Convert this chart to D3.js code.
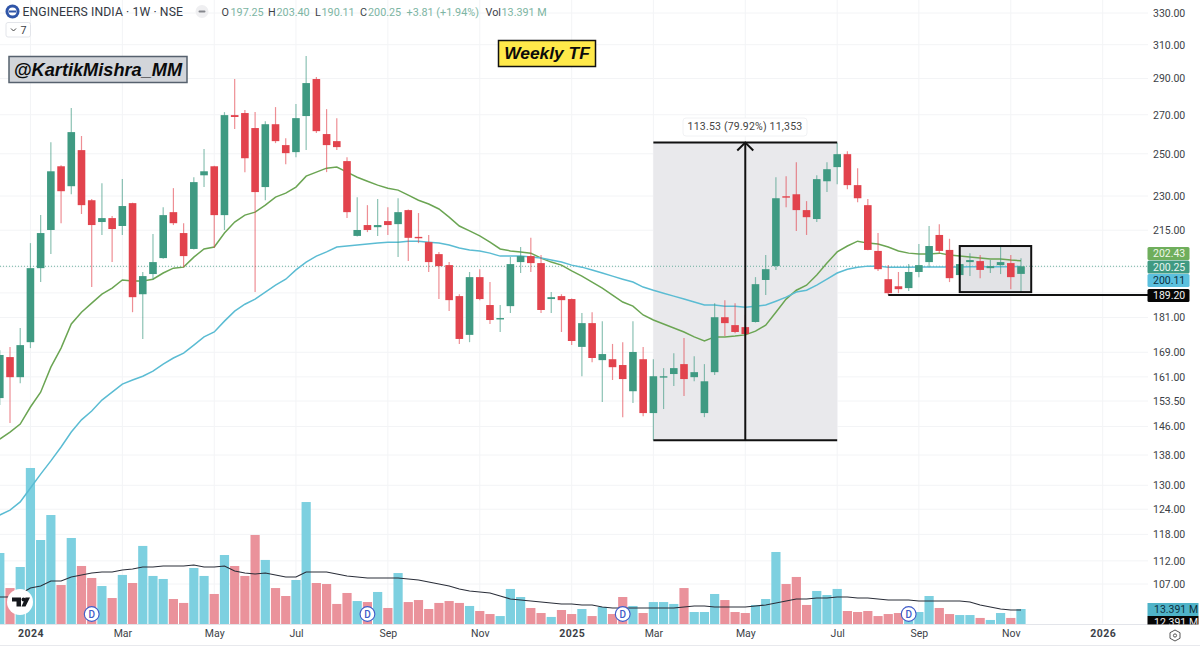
<!DOCTYPE html>
<html>
<head>
<meta charset="utf-8">
<title>ENGINEERS INDIA 1W</title>
<script src="https://cdnjs.cloudflare.com/ajax/libs/d3/7.8.5/d3.min.js"></script>
<style>
  html, body { margin: 0; padding: 0; background: #fff; overflow: hidden; }
  svg { display: block; font-family: Roboto, "Liberation Sans", sans-serif; }
</style>
</head>
<body>
<svg id="chart" width="1200" height="647"></svg>
<script>
// weekly candles, oldest first
const opens = [154.4,167.4,160.9,172.4,199.5,215.1,243.9,234.5,251.8,228.1,218.5,220.2,216.8,226.8,189.5,197.2,203.5,222.8,213.8,207.2,239.6,243.9,221.5,269.8,270.9,263.0,234.1,265.0,254.3,250.8,269.3,289.7,259.9,256.3,246.4,212.6,217.2,216.3,218.9,217.6,223.7,212.2,210.0,205.1,200.7,188.8,174.9,196.0,185.5,180.4,185.1,201.9,204.3,201.5,187.7,188.8,187.7,170.8,179.0,166.4,166.7,164.8,156.5,166.7,149.9,160.9,161.9,165.1,160.9,149.9,162.5,181.1,178.3,177.6,179.4,194.9,200.3,229.9,230.8,223.7,219.8,236.8,243.5,249.8,235.0,225.9,206.4,195.2,192.5,191.8,198.0,201.9,213.0,206.8,196.8,201.9,202.3,199.5,200.7,201.5,197.25];
const highs = [169.7,170.8,177.3,209.6,221.5,255.8,244.4,273.6,258.9,228.6,235.9,221.1,237.8,227.0,198.0,213.4,225.0,233.6,218.0,238.7,252.3,244.2,271.4,289.7,272.5,271.4,266.6,274.1,257.8,275.8,303.1,290.8,273.0,268.2,248.3,229.5,225.9,228.6,225.0,229.0,224.0,222.4,213.0,206.0,201.9,189.5,198.0,199.1,194.1,185.5,203.9,208.0,211.8,204.7,190.3,189.5,187.9,182.6,182.9,179.7,171.8,172.4,179.7,170.8,166.7,163.8,168.7,173.8,167.7,165.1,186.2,187.3,186.2,181.9,196.0,204.7,238.7,239.2,245.9,227.7,239.6,245.9,255.5,251.3,243.0,228.6,213.8,200.7,198.0,201.1,209.2,216.8,217.6,211.4,205.1,205.5,204.7,202.7,208.0,204.7,203.40];
const lows = [152.3,147.0,159.0,170.4,194.1,205.1,218.0,230.8,222.0,192.2,213.0,201.9,213.0,182.9,173.5,195.2,203.2,217.2,199.9,207.0,234.1,207.6,215.1,262.5,241.1,190.3,228.1,255.3,244.9,248.3,251.8,260.4,241.1,251.8,220.2,212.4,214.2,212.6,213.0,203.9,202.3,209.6,198.0,187.7,183.3,171.8,172.4,187.3,178.7,175.9,182.6,197.6,198.0,182.6,182.6,175.9,171.4,161.2,165.7,153.2,160.0,148.7,152.9,149.0,142.1,151.1,158.1,155.0,159.6,148.7,161.6,174.5,175.5,166.4,179.2,189.2,198.8,225.0,214.7,213.0,218.5,231.8,235.4,233.1,227.2,206.7,198.4,189.2,189.9,190.7,196.0,199.9,205.5,194.1,190.3,196.4,195.6,197.6,197.2,191.4,190.11];
const closes = [168.1,160.9,171.4,199.5,213.8,241.5,232.2,260.9,225.9,217.2,220.2,215.5,225.5,188.4,196.4,201.9,221.5,218.0,204.3,236.4,241.5,221.5,269.8,268.8,247.8,231.8,265.0,256.3,250.3,268.2,287.4,261.4,254.3,253.3,222.8,215.1,215.1,217.2,217.2,222.8,211.8,211.8,201.9,200.3,187.3,173.5,196.0,187.7,180.1,180.8,201.1,204.3,201.5,183.7,188.4,187.3,172.8,179.0,167.1,168.4,164.1,160.3,169.1,149.9,161.2,161.2,163.8,160.3,162.5,159.6,181.1,179.0,175.9,175.2,193.3,199.1,229.0,229.5,223.7,220.6,237.8,242.5,249.8,235.0,229.0,206.8,199.1,189.9,191.4,198.0,200.7,208.4,206.4,195.6,201.1,202.7,198.8,200.3,201.9,196.0,200.25];

// moving averages on price
const maFast = [142.4,144.4,146.7,151.7,156.2,164.1,170.4,178.7,182.9,186.2,189.5,191.8,194.9,194.5,194.5,195.2,197.6,199.5,199.9,203.9,207.2,208.0,213.8,218.5,221.5,222.8,225.9,229.5,231.3,234.1,239.2,241.1,243.0,243.5,241.1,238.7,236.8,235.0,233.6,232.7,230.4,228.1,226.4,224.2,220.6,216.8,214.7,212.6,210.0,207.2,206.4,206.0,205.5,203.5,201.9,200.7,198.4,196.4,194.1,191.8,189.2,186.6,185.1,181.9,180.1,178.7,177.3,175.9,174.2,172.8,174.2,174.2,174.5,174.9,176.2,178.3,182.9,187.7,191.0,192.9,196.8,201.5,206.0,208.4,210.4,209.6,209.2,208.0,206.4,205.5,205.1,205.1,205.5,204.7,204.3,203.9,203.5,203.1,203.1,202.7,202.43];
const maSlow = [122.6,123.8,125.8,129.3,132.9,136.4,140.2,144.4,147.9,150.5,153.8,156.2,158.7,160.0,161.2,162.8,165.1,167.1,168.7,171.4,174.2,175.9,179.7,183.3,185.8,187.7,190.3,192.9,195.2,198.8,201.9,204.3,206.0,208.0,208.4,208.8,209.2,209.6,210.0,210.0,210.4,210.4,210.0,209.6,208.8,207.6,206.8,206.4,205.5,204.3,204.3,204.3,203.9,203.5,202.7,201.9,200.7,199.9,198.8,197.6,196.4,195.2,194.1,192.2,191.0,189.9,188.8,187.7,186.6,185.5,185.5,185.1,185.1,184.7,185.1,185.5,186.9,188.4,190.3,191.0,192.9,195.2,197.6,199.1,199.9,200.3,200.3,199.9,199.9,199.9,200.0,200.0,200.0,200.0,200.0,200.1,200.1,200.1,200.1,200.1,200.11];

// volume in millions
const volumes = [63.4,32.1,50.9,139.3,75.0,97.3,34.8,76.8,51.8,41.1,33.9,23.2,43.8,36.6,69.7,42.9,40.2,22.3,18.8,50.0,42.9,26.8,61.6,51.8,42.9,79.5,57.2,32.1,25.0,39.3,108.9,36.6,35.7,17.9,27.7,20.5,19.6,28.6,14.3,45.5,19.6,21.4,13.4,18.8,20.5,18.8,16.1,11.6,8.9,7.1,31.3,24.1,14.3,9.8,6.3,12.5,8.9,13.4,7.1,15.2,8.9,24.1,16.1,9.8,19.6,19.6,17.9,32.1,10.7,10.7,26.8,21.4,10.7,9.8,17.0,22.3,64.3,35.7,42.0,17.0,29.5,25.9,31.3,11.6,10.7,11.6,7.1,8.9,9.8,10.7,10.7,25.0,14.3,8.9,8.0,8.0,5.4,3.6,9.8,5.4,13.391];
const volumeMa = [24.1,24.1,26.8,32.1,33.9,38.4,38.4,42.0,43.8,45.5,46.4,46.4,48.2,49.1,50.9,50.9,51.8,51.8,51.8,52.7,50.9,50.9,51.8,47.3,45.5,44.7,45.5,43.8,42.0,42.0,46.4,46.4,46.4,44.7,42.9,42.0,41.1,41.1,41.1,41.1,40.2,39.3,37.5,35.7,33.9,31.3,29.5,28.6,27.7,25.0,22.3,21.4,20.5,19.6,18.8,17.9,17.9,17.0,17.0,15.2,14.3,14.3,14.3,14.3,14.3,14.3,14.3,15.2,16.1,16.1,15.2,15.2,15.2,15.2,16.1,17.0,18.8,20.5,22.3,22.3,23.2,23.2,24.1,24.1,23.2,23.2,22.3,21.4,21.4,21.4,20.5,20.5,20.5,20.5,20.5,19.6,17.0,15.2,13.4,12.5,12.5];

// axes
const priceTicks = [330,310,290,270,250,230,215,200,190,181,169,161,153.5,146,138,130,124,118,112,107];
const timeTicks = [3,12,21,29,38,47,56,64,73,82,90,99,108];
const timeLabels = ['2024','Mar','May','Jul','Sep','Nov','2025','Mar','May','Jul','Sep','Nov','2026'];
const yearLabels = ['2024','2025','2026'];

// drawings and markers
const dividendBars = [9,36,61,89];
const measureBars = [64,82];
const measurePrices = [142.05,255.58];
const rangeBars = [94,101];
const rangePrices = [190.3,208.4];
const supportBar = 87;
const supportPrice = 189.20;
const lastPrice = 200.25;

const GREEN = '#3f9a82', RED = '#e2434d';
const VOL_BLUE = '#7dd0e0', VOL_RED = '#ea929b';
const GRID = '#f3f4f6', TEXT = '#3c3f47';

const svg = d3.select('#chart');
svg.append('rect').attr('width', 1200).attr('height', 647).attr('fill', '#fff');

const x = d3.scaleLinear().domain([0, 100]).range([-0.2, 1021]);
const y = d3.scaleLog().domain([330, 107]).range([13, 584]);
const yVol = d3.scaleLinear().domain([0, 100]).range([624, 512]);

svg.append('defs').append('clipPath').attr('id', 'volClip')
  .append('rect').attr('x', 1140).attr('y', 595).attr('width', 60).attr('height', 29.5);

// grid
svg.append('g').selectAll('line').data(priceTicks).join('line')
  .attr('x1', 0).attr('x2', 1148)
  .attr('y1', d => y(d)).attr('y2', d => y(d))
  .attr('stroke', GRID);
svg.append('g').selectAll('line').data(timeTicks).join('line')
  .attr('x1', d => x(d)).attr('x2', d => x(d))
  .attr('y1', 0).attr('y2', 624)
  .attr('stroke', GRID);

// volume pane
svg.append('g').selectAll('rect').data(volumes).join('rect')
  .attr('x', (d, i) => x(i) - 4.6)
  .attr('width', 9.2)
  .attr('y', d => yVol(d))
  .attr('height', d => yVol(0) - yVol(d))
  .attr('fill', (d, i) => closes[i] >= opens[i] ? VOL_BLUE : VOL_RED);

svg.append('path').datum(volumeMa)
  .attr('d', d3.line().x((d, i) => x(i)).y(d => yVol(d)))
  .attr('fill', 'none').attr('stroke', '#2a2e39').attr('stroke-width', 1.1);

// shaded drawings sit under the candles
svg.append('rect')
  .attr('x', x(measureBars[0])).attr('width', x(measureBars[1]) - x(measureBars[0]))
  .attr('y', y(measurePrices[1])).attr('height', y(measurePrices[0]) - y(measurePrices[1]))
  .attr('fill', '#e9e9ec');
svg.append('rect')
  .attr('x', x(rangeBars[0])).attr('width', x(rangeBars[1]) - x(rangeBars[0]))
  .attr('y', y(rangePrices[1])).attr('height', y(rangePrices[0]) - y(rangePrices[1]))
  .attr('fill', '#e2e3e6');

// last price line
svg.append('line')
  .attr('x1', 0).attr('x2', 1148)
  .attr('y1', y(lastPrice)).attr('y2', y(lastPrice))
  .attr('stroke', GREEN).attr('stroke-opacity', 0.75).attr('stroke-dasharray', '1,2');

// moving averages
const maLine = d3.line().x((d, i) => x(i)).y(d => y(d));
svg.append('path').datum(maFast).attr('d', maLine)
  .attr('fill', 'none').attr('stroke', '#6ba553').attr('stroke-width', 1.5);
svg.append('path').datum(maSlow).attr('d', maLine)
  .attr('fill', 'none').attr('stroke', '#5bbcd3').attr('stroke-width', 1.5);

// candles
const candles = svg.append('g').selectAll('g').data(opens).join('g');
candles.append('line')
  .attr('x1', (d, i) => x(i)).attr('x2', (d, i) => x(i))
  .attr('y1', (d, i) => y(highs[i])).attr('y2', (d, i) => y(lows[i]))
  .attr('stroke', (d, i) => closes[i] >= opens[i] ? GREEN : RED)
  .attr('stroke-opacity', 0.6)
  .attr('stroke-width', 1.2);
candles.append('rect')
  .attr('x', (d, i) => x(i) - 3.8)
  .attr('width', 7.6)
  .attr('y', (d, i) => y(Math.max(opens[i], closes[i])))
  .attr('height', (d, i) => Math.max(1.4, Math.abs(y(opens[i]) - y(closes[i]))))
  .attr('fill', (d, i) => closes[i] >= opens[i] ? GREEN : RED);

// measure tool
const mx1 = x(measureBars[0]), mx2 = x(measureBars[1]), mMid = (mx1 + mx2) / 2;
const mTop = y(measurePrices[1]), mBot = y(measurePrices[0]);
const drawing = svg.append('g').attr('stroke', '#111').attr('stroke-width', 2).attr('fill', 'none');
drawing.append('line').attr('x1', mx1).attr('x2', mx2).attr('y1', mTop).attr('y2', mTop);
drawing.append('line').attr('x1', mx1).attr('x2', mx2).attr('y1', mBot).attr('y2', mBot);
drawing.append('line').attr('x1', mMid).attr('x2', mMid).attr('y1', mTop).attr('y2', mBot);
drawing.append('path').attr('d', `M${mMid - 8},${mTop + 8}L${mMid},${mTop}L${mMid + 8},${mTop + 8}`);

// range box and support line
drawing.append('rect')
  .attr('x', x(rangeBars[0])).attr('width', x(rangeBars[1]) - x(rangeBars[0]))
  .attr('y', y(rangePrices[1])).attr('height', y(rangePrices[0]) - y(rangePrices[1]));
drawing.append('line')
  .attr('x1', x(supportBar)).attr('x2', 1148)
  .attr('y1', y(supportPrice)).attr('y2', y(supportPrice));

svg.append('rect')
  .attr('x', 683).attr('y', 118).attr('width', 124).attr('height', 18).attr('rx', 3)
  .attr('fill', '#fff').attr('stroke', '#f1f2f4');
svg.append('text')
  .attr('x', 745).attr('y', 130).attr('text-anchor', 'middle')
  .attr('font-size', 10.5).attr('fill', '#444').attr('letter-spacing', 0.2)
  .text('113.53 (79.92%) 11,353');

// price axis
const yAxis = d3.axisRight(y).tickValues(priceTicks).tickSize(0).tickPadding(0).tickFormat(d3.format('.2f'));
const yG = svg.append('g').attr('transform', 'translate(1153,0)').call(yAxis);
yG.select('.domain').remove();
yG.selectAll('text').attr('font-size', 10.5).attr('fill', TEXT).attr('font-family', 'Roboto, sans-serif');

// time axis
svg.append('line').attr('x1', 0).attr('x2', 1148).attr('y1', 624.5).attr('y2', 624.5).attr('stroke', '#e3e5ea');
svg.append('line').attr('x1', 0).attr('x2', 1200).attr('y1', 645.5).attr('y2', 645.5).attr('stroke', '#e8e9ed');
const xAxis = d3.axisBottom(x).tickValues(timeTicks).tickSize(0).tickPadding(5).tickFormat((d, i) => timeLabels[i]);
const xG = svg.append('g').attr('transform', 'translate(0,625)').call(xAxis);
xG.select('.domain').remove();
xG.selectAll('text')
  .attr('font-size', 10.5).attr('fill', TEXT).attr('font-family', 'Roboto, sans-serif')
  .attr('font-weight', d => yearLabels.includes(timeLabels[timeTicks.indexOf(d)]) ? 700 : 400)
  .attr('letter-spacing', d => yearLabels.includes(timeLabels[timeTicks.indexOf(d)]) ? 0.5 : 0);

// price badges
const badges = [
  { top: 247, fill: '#6fae5c', color: '#eef6e8', label: '202.43' },
  { top: 260.5, fill: '#3f9a82', color: '#e8f5f0', label: '200.25' },
  { top: 274, fill: '#5bc0de', color: '#0e3140', label: '200.11' },
  { top: 289, fill: '#060606', color: '#f2f2f2', label: '189.20' }
];
const badge = svg.append('g').selectAll('g').data(badges).join('g');
badge.append('rect')
  .attr('x', 1147.5).attr('y', d => d.top).attr('width', 42).attr('height', 13).attr('rx', 1.5)
  .attr('fill', d => d.fill);
badge.append('text')
  .attr('x', 1153).attr('y', d => d.top + 10)
  .attr('font-size', 10.5).attr('fill', d => d.color)
  .text(d => d.label);

// volume badges, the lower one is cut off by the pane edge
const volBadges = svg.append('g').attr('clip-path', 'url(#volClip)');
volBadges.append('rect').attr('x', 1147.5).attr('y', 616).attr('width', 51).attr('height', 13).attr('fill', '#060606');
volBadges.append('text').attr('x', 1154).attr('y', 626).attr('font-size', 10.5).attr('fill', '#f2f2f2').text('12.391 M');
volBadges.append('rect').attr('x', 1147.5).attr('y', 603).attr('width', 51).attr('height', 13).attr('fill', '#4fb3c8');
volBadges.append('text').attr('x', 1154).attr('y', 613).attr('font-size', 10.5).attr('fill', '#0e3140').text('13.391 M');

// settings hexagon
svg.append('path').attr('d', 'M1175,630L1180,632.7L1180,638.3L1175,641L1170,638.3L1170,632.7Z')
  .attr('fill', 'none').attr('stroke', '#555').attr('stroke-width', 1);
svg.append('circle').attr('cx', 1175).attr('cy', 635.5).attr('r', 1.6)
  .attr('fill', 'none').attr('stroke', '#555').attr('stroke-width', 1);

// dividend markers
const dMark = svg.append('g').selectAll('g').data(dividendBars).join('g')
  .attr('transform', d => `translate(${x(d)},614)`);
dMark.append('circle').attr('r', 7.4).attr('fill', '#fff').attr('stroke', '#3f5bc8').attr('stroke-width', 1.1);
dMark.append('text').attr('text-anchor', 'middle').attr('y', 3.6)
  .attr('font-size', 10).attr('font-weight', 500).attr('fill', '#3f5bc8').text('D');

// tradingview badge
svg.append('circle').attr('cx', 20).attr('cy', 602).attr('r', 13).attr('fill', '#fff');
svg.append('path').attr('d', 'M12,597.5H21V606.5H16.5V601.5H12Z').attr('fill', '#16181d');
svg.append('circle').attr('cx', 23.5).attr('cy', 599.5).attr('r', 2).attr('fill', '#16181d');
svg.append('path').attr('d', 'M25.5,597.5H30L25.5,606.5H21.5Z').attr('fill', '#16181d');

// header
svg.append('circle').attr('cx', 12.5).attr('cy', 11.5).attr('r', 7).attr('fill', '#2f55a8');
svg.append('circle').attr('cx', 12.5).attr('cy', 11.5).attr('r', 4).attr('fill', '#fff');
svg.append('rect').attr('x', 9).attr('y', 10.5).attr('width', 7).attr('height', 2).attr('fill', '#2f55a8');
svg.append('text').attr('x', 22.5).attr('y', 16)
  .attr('font-size', 12.2).attr('fill', '#333842').attr('letter-spacing', 0.1)
  .text('ENGINEERS INDIA · 1W · NSE');
svg.append('circle').attr('cx', 202).attr('cy', 11.5).attr('r', 6.5).attr('fill', '#efeff1');
svg.append('rect').attr('x', 198.5).attr('y', 10.5).attr('width', 7).attr('height', 2).attr('rx', 1).attr('fill', '#85878d');

const headerParts = [
  { px: 221.5, text: 'O', color: '#3c3f47' }, { px: 230.5, text: '197.25', color: '#7db5a3' },
  { px: 268, text: 'H', color: '#3c3f47' }, { px: 276.5, text: '203.40', color: '#7db5a3' },
  { px: 315, text: 'L', color: '#3c3f47' }, { px: 321.5, text: '190.11', color: '#7db5a3' },
  { px: 360, text: 'C', color: '#3c3f47' }, { px: 368, text: '200.25', color: '#7db5a3' },
  { px: 406.5, text: '+3.81 (+1.94%)', color: '#7db5a3' },
  { px: 485.5, text: 'Vol', color: '#3c3f47' }, { px: 501.5, text: '13.391 M', color: '#7db5a3' }
];
svg.append('g').selectAll('text').data(headerParts).join('text')
  .attr('x', d => d.px).attr('y', 15.5)
  .attr('font-size', 10.8).attr('fill', d => d.color)
  .text(d => d.text);

// indicator collapse button
svg.append('rect').attr('x', 6).attr('y', 22.5).attr('width', 24.5).attr('height', 14.5).attr('rx', 2)
  .attr('fill', '#fff').attr('stroke', '#e3e5ea');
svg.append('path').attr('d', 'M11,28.5L13.5,31L16,28.5').attr('fill', 'none').attr('stroke', '#444').attr('stroke-width', 1);
svg.append('text').attr('x', 20.5).attr('y', 34).attr('font-size', 10.8).attr('fill', '#3c3f47').text('7');

// watermark and timeframe tag
svg.append('rect').attr('x', 9).attr('y', 56.5).attr('width', 178).attr('height', 26)
  .attr('fill', '#d2d5da').attr('stroke', '#56616e').attr('stroke-width', 1.5);
svg.append('text').attr('x', 98).attr('y', 76).attr('text-anchor', 'middle')
  .attr('font-family', '"Liberation Sans", sans-serif')
  .attr('font-size', 18.2).attr('font-weight', 700).attr('font-style', 'italic').attr('fill', '#0b0b0b')
  .text('@KartikMishra_MM');

svg.append('rect').attr('x', 498.5).attr('y', 40.5).attr('width', 97).attr('height', 26)
  .attr('fill', '#ffe94a').attr('stroke', '#111').attr('stroke-width', 1.5);
svg.append('text').attr('x', 547).attr('y', 59).attr('text-anchor', 'middle')
  .attr('font-family', '"Liberation Sans", sans-serif')
  .attr('font-size', 17.4).attr('font-weight', 700).attr('font-style', 'italic').attr('fill', '#0b0b0b')
  .text('Weekly TF');
</script>
</body>
</html>
